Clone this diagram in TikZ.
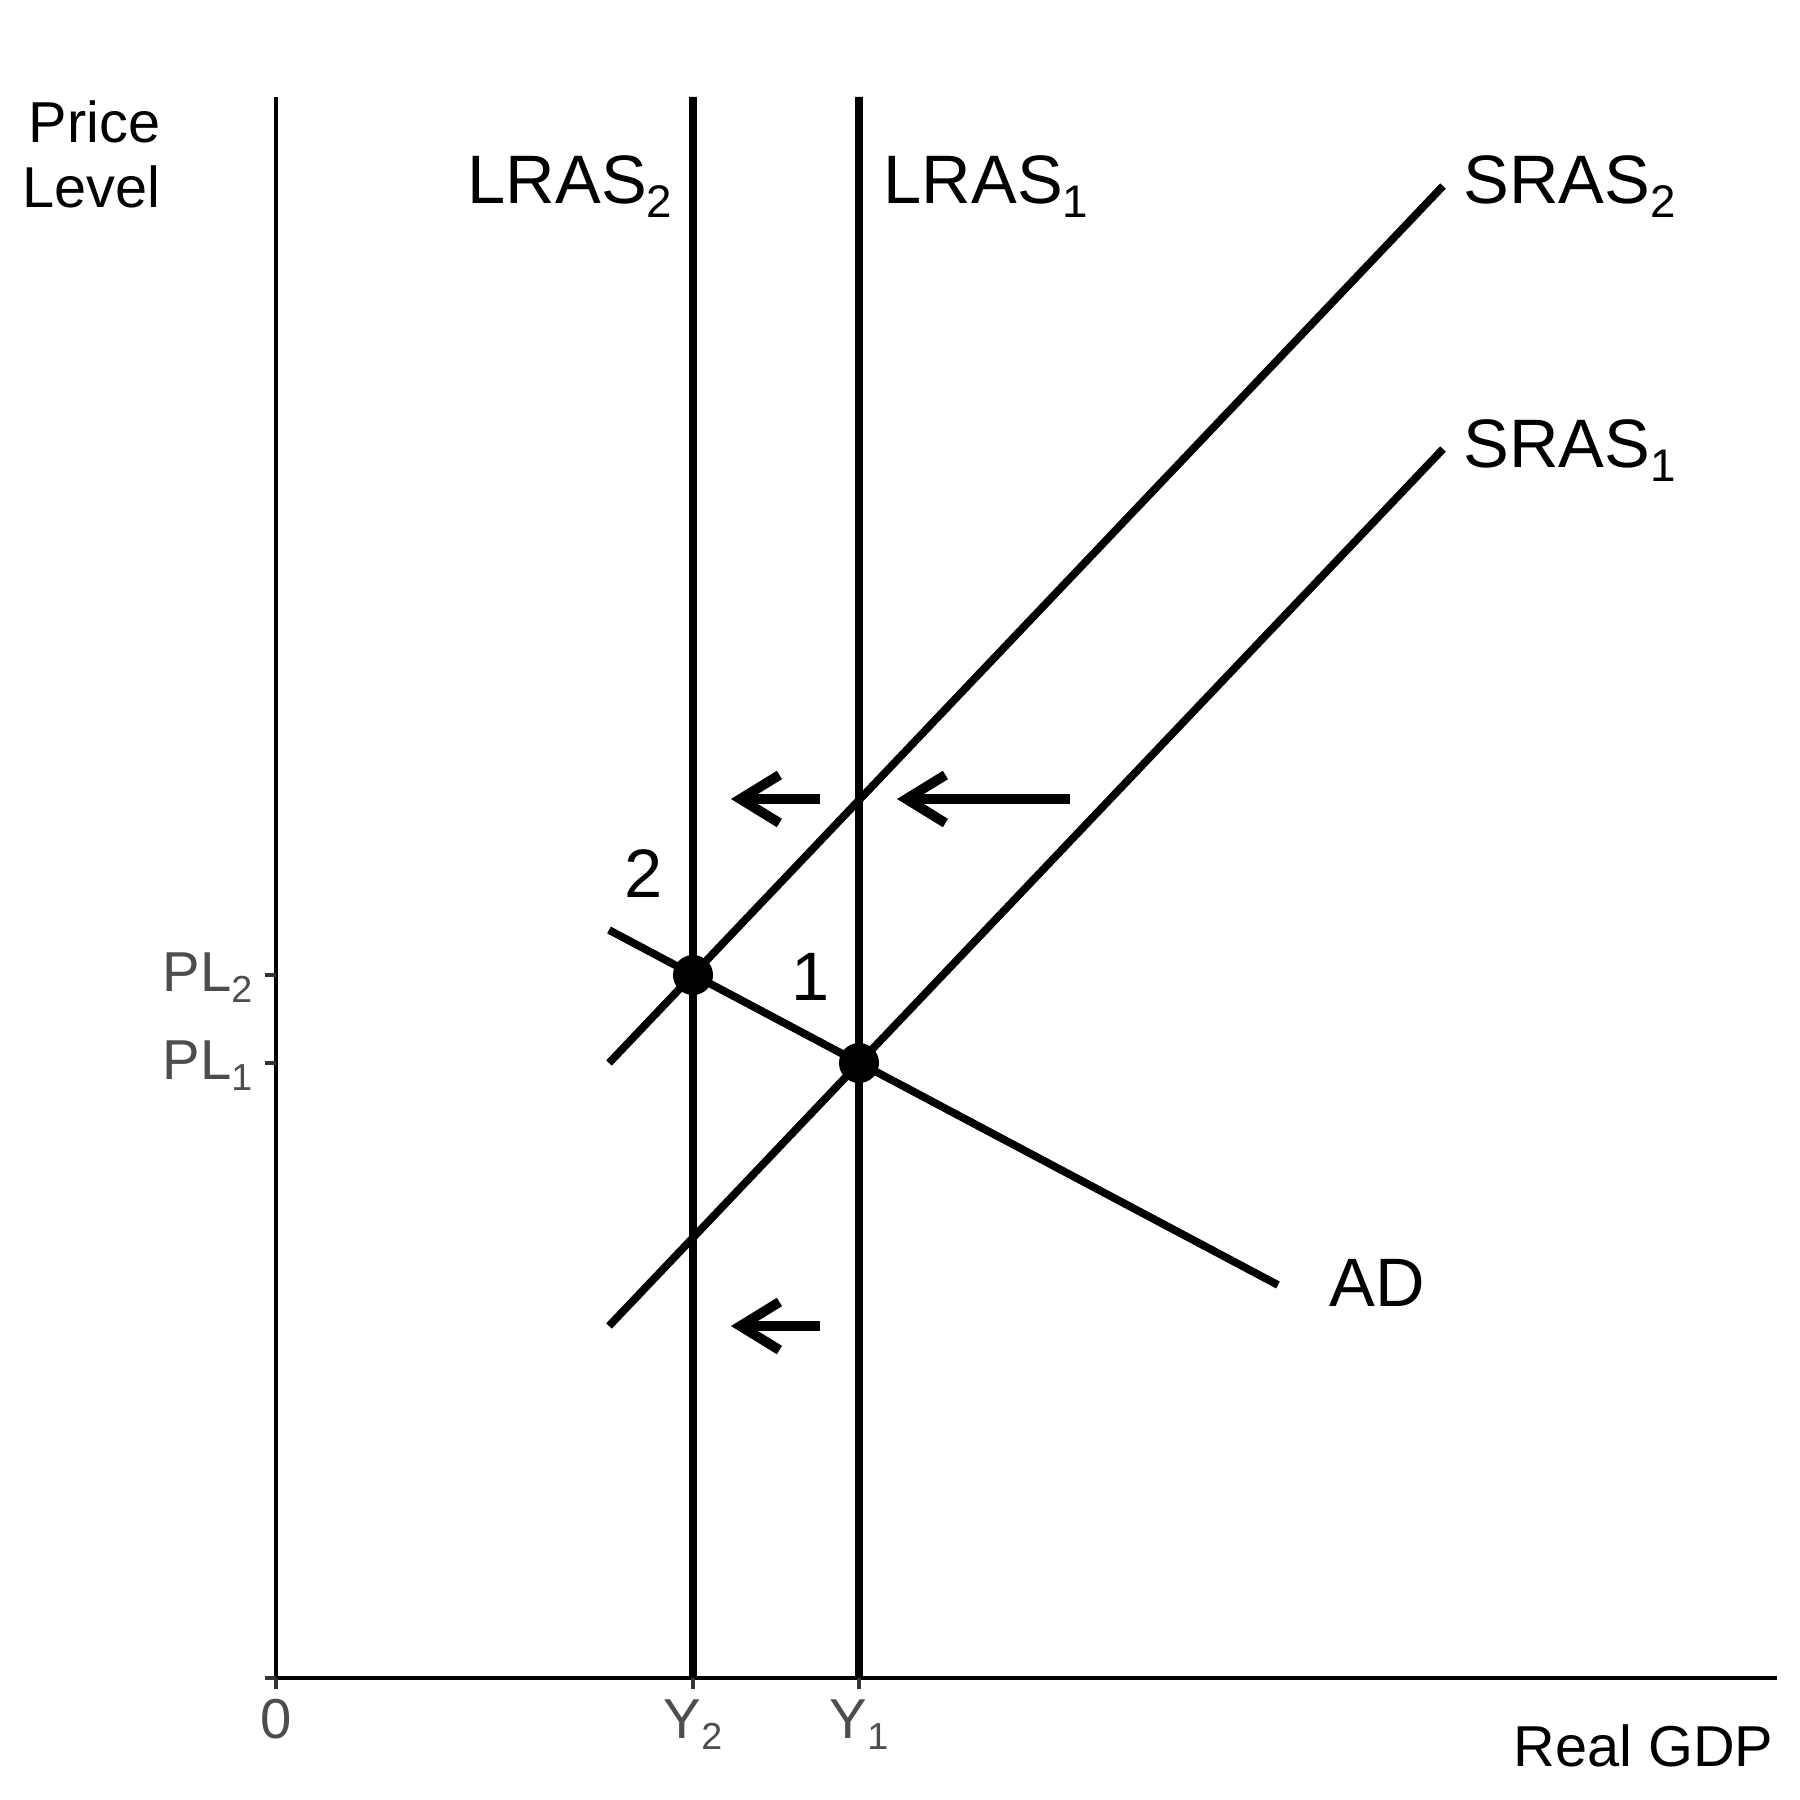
\documentclass[tikz,border=0pt]{standalone}
\usepackage{fontspec}
\setmainfont{Liberation Sans}
\usetikzlibrary{arrows.meta}
\definecolor{ticktext}{HTML}{4D4D4D}
\definecolor{tickline}{HTML}{333333}
\newcommand\bigsub[1]{\raisebox{-4.2pt}{\fontsize{13}{13}\selectfont #1}}
\newcommand\ticksub[1]{\raisebox{-3.2pt}{\fontsize{10.7}{11}\selectfont #1}}
\tikzset{curve/.style={line width=2.2pt},
         axisline/.style={line width=1.1pt},
         tickmark/.style={line width=1.1pt, tickline},
         shiftarrow/.style={line width=2.8pt, -{Straight Barb[length=3.9mm,width=4.8mm]}},
         eqdot/.style={circle, fill, inner sep=0pt, minimum size=4mm},
         curvelabel/.style={inner sep=0pt, font=\fontsize{19.5}{23}\selectfont},
         axistitle/.style={inner sep=0pt, font=\fontsize{16.4}{18.4}\selectfont},
         ticklabel/.style={inner sep=0pt, text=ticktext, font=\fontsize{16}{18}\selectfont}}

\begin{document}
\begin{tikzpicture}[x=0.01cm, y=-0.01cm]
    \useasboundingbox (0,0) rectangle (1800,1800);

    \coordinate (origin) at (276,1678);
    \coordinate (ytop) at (276,97);
    \coordinate (xend) at (1777,1678);
    \draw[axisline] (ytop) -- (origin) -- (xend);
    \foreach \x in {276,693,859} \draw[tickmark] (\x,1678) -- (\x,1689);
    \foreach \y in {975,1063,1678} \draw[tickmark] (265,\y) -- (276,\y);

    \coordinate (lras2a) at (693,97);   \coordinate (lras2b) at (693,1678);
    \coordinate (lras1a) at (859,97);   \coordinate (lras1b) at (859,1678);
    \coordinate (sras2a) at (609,1063); \coordinate (sras2b) at (1443,186);
    \coordinate (sras1a) at (609,1326); \coordinate (sras1b) at (1443,449);
    \coordinate (ada) at (609,930);     \coordinate (adb) at (1278,1285);
    \draw[curve] (lras2a) -- (lras2b)  (lras1a) -- (lras1b)
                 (sras2a) -- (sras2b)  (sras1a) -- (sras1b)
                 (ada) -- (adb);

    \node[eqdot] (eq2) at (693,975) {};
    \node[eqdot] (eq1) at (859,1063) {};

    \coordinate (a1s) at (820,799);  \coordinate (a1e) at (731,799);
    \coordinate (a2s) at (1070,799); \coordinate (a2e) at (897,799);
    \coordinate (a3s) at (820,1326); \coordinate (a3e) at (731,1326);
    \draw[shiftarrow] (a1s) -- (a1e);
    \draw[shiftarrow] (a2s) -- (a2e);
    \draw[shiftarrow] (a3s) -- (a3e);

    \node[curvelabel, anchor=base east] (lras2lbl) at (673,203) {LRAS\bigsub{2}};
    \node[curvelabel, anchor=base west] (lras1lbl) at (883,203) {LRAS\bigsub{1}};
    \node[curvelabel, anchor=base west] (sras2lbl) at (1463,203) {SRAS\bigsub{2}};
    \node[curvelabel, anchor=base west] (sras1lbl) at (1463,467) {SRAS\bigsub{1}};
    \node[curvelabel, anchor=base west] (adlbl) at (1329,1306) {AD};
    \node[curvelabel, anchor=base] (pt2lbl) at (644,897) {2};
    \node[curvelabel, anchor=base] (pt1lbl) at (811,1000) {1};

    \node[axistitle, anchor=north east, align=right] (ytitle) at (161,100) {Price\\Level};
    \node[axistitle, anchor=base east] (xtitle) at (1774,1766) {Real GDP};

    \node[ticklabel, anchor=base] (zerolbl) at (276,1738) {0};
    \node[ticklabel, anchor=base] (y2lbl) at (693,1738) {Y\ticksub{2}};
    \node[ticklabel, anchor=base] (y1lbl) at (859,1738) {Y\ticksub{1}};
    \node[ticklabel, anchor=base east] (pl2lbl) at (253,991) {PL\ticksub{2}};
    \node[ticklabel, anchor=base east] (pl1lbl) at (253,1079) {PL\ticksub{1}};
\end{tikzpicture}
\end{document}
